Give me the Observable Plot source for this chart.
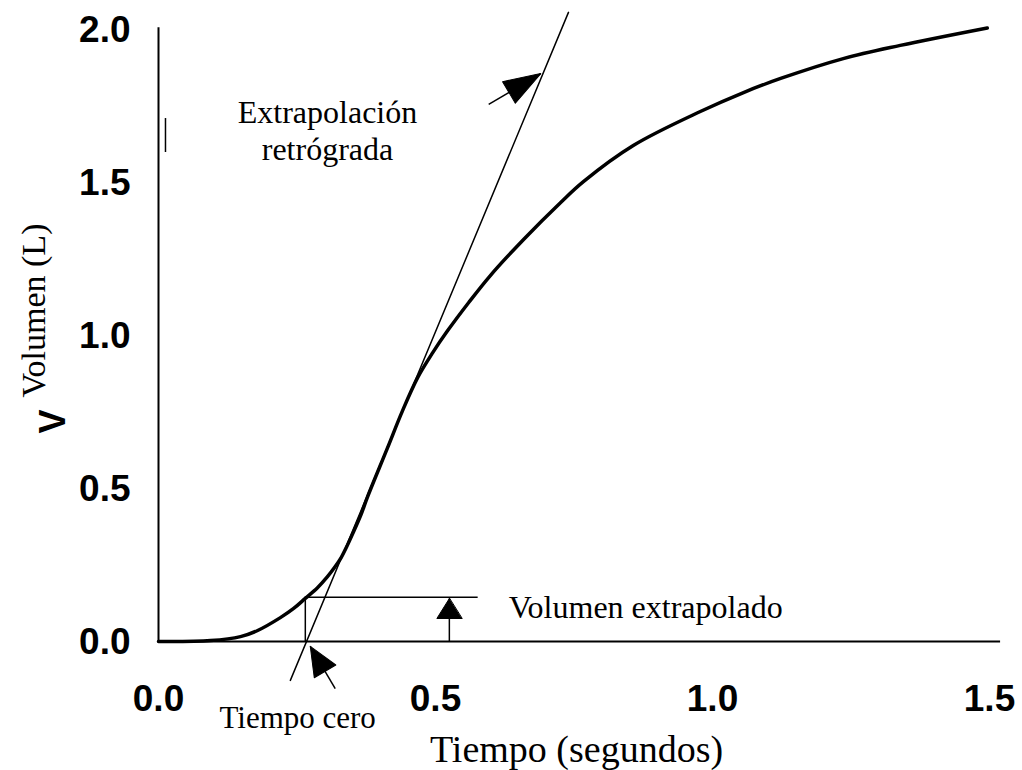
<!DOCTYPE html>
<html><head><meta charset="utf-8">
<script src="https://cdn.jsdelivr.net/npm/d3@7"></script>
<script src="https://cdn.jsdelivr.net/npm/@observablehq/plot@0.6"></script>
<style>body{margin:0;background:#fff}</style>
</head><body><div id="chart"></div>
<script>
// Curva volumen-tiempo (espirometría forzada)
const tiempo  = [0, 0.094, 0.148, 0.179, 0.220, 0.244, 0.265, 0.287, 0.305, 0.319, 0.330, 0.339, 0.350, 0.365, 0.377, 0.413, 0.440, 0.468, 0.495, 0.522, 0.560, 0.599, 0.659, 0.726, 0.767, 0.857, 0.978, 1.056, 1.123, 1.236, 1.339, 1.496];
const volumen = [0, 0.003, 0.016, 0.036, 0.078, 0.108, 0.141, 0.176, 0.212, 0.245, 0.275, 0.307, 0.350, 0.412, 0.471, 0.631, 0.752, 0.863, 0.944, 1.016, 1.108, 1.196, 1.314, 1.435, 1.503, 1.621, 1.732, 1.794, 1.840, 1.905, 1.948, 2.005];

// Recta de extrapolación retrógrada (tangente)
const tangenteT = [0.238, 0.740];
const tangenteV = [-0.127, 2.056];

// Tiempo cero y volumen extrapolado
const tiempoCero = 0.265;
const volExtrap = 0.145;
const volExtrapFinT = 0.577;

const xTicks = [0, 0.5, 1.0, 1.5];
const yTicks = [0, 0.5, 1.0, 1.5, 2.0];

// Flechas: cola (t1,v1) -> punta (t2,v2)
const flechas = [
  {t1: 0.596, v1: 1.755, t2: 0.690, v2: 1.856, largo: 37, ancho: 25},
  {t1: 0.319, v1: -0.154, t2: 0.274, v2: -0.016, largo: 29, ancho: 25},
  {t1: 0.525, v1: 0, t2: 0.525, v2: 0.1405, largo: 20, ancho: 25}
];

// Textos de anotación
const textosSerif = [
  {t: 0.305, v: 1.693, txt: "Extrapolación", anchor: "middle", size: 32},
  {t: 0.305, v: 1.572, txt: "retrógrada", anchor: "middle", size: 32},
  {t: 0.632, v: 0.078, txt: "Volumen extrapolado", anchor: "start", size: 32},
  {t: 0.110, v: -0.284, txt: "Tiempo cero", anchor: "start", size: 31},
  {t: 0.490, v: -0.395, txt: "Tiempo (segundos)", anchor: "start", size: 38}
];

const curva = tiempo.map((t, i) => ({t, v: volumen[i]}));
const tangente = tangenteT.map((t, i) => ({t, v: tangenteV[i]}));

const W = 1022, H = 770;
const mL = 158, mR = 33, mT = 29, mB = 129;
const kx = (W - mL - mR) / 1.5, ky = (H - mT - mB) / 2;
flechas.forEach(f => { f.rot = Math.atan2((f.t2 - f.t1) * kx, (f.v2 - f.v1) * ky) * 180 / Math.PI; });

const cabeza = (largo, ancho) => ({
  draw(ctx) { ctx.moveTo(0, 0); ctx.lineTo(-ancho / 2, largo); ctx.lineTo(ancho / 2, largo); ctx.closePath(); }
});

const sans = "'Liberation Sans', Arial, sans-serif";
const serif = "'Liberation Serif', 'Times New Roman', serif";

const chart = Plot.plot({
  width: W, height: H,
  marginLeft: mL, marginRight: mR, marginTop: mT, marginBottom: mB,
  style: {background: "#fff", color: "#000", fontFamily: serif},
  x: {domain: [0, 1.5]},
  y: {domain: [0, 2]},
  marks: [
    Plot.ruleX([0], {y1: 0, y2: 2.006, stroke: "#000", strokeWidth: 2}),
    Plot.ruleY([0], {x1: 0, x2: 1.52, stroke: "#000", strokeWidth: 2}),
    Plot.ruleX([0.0126], {y1: 1.598, y2: 1.709, stroke: "#000", strokeWidth: 1.5}),
    Plot.axisX({ticks: xTicks, tickSize: 0, tickPadding: 43, tickFormat: d3.format(".1f"), label: null,
      fontSize: 37, fontWeight: "bold", fontFamily: sans, fill: "#000"}),
    Plot.axisY({ticks: yTicks, tickSize: 0, tickPadding: 28, tickFormat: d3.format(".1f"), label: null,
      fontSize: 37, fontWeight: "bold", fontFamily: sans, fill: "#000", dy: 1}),
    Plot.line(tangente, {x: "t", y: "v", stroke: "#000", strokeWidth: 1.5}),
    Plot.ruleY([volExtrap], {x1: tiempoCero, x2: volExtrapFinT, stroke: "#000", strokeWidth: 1.5}),
    Plot.ruleX([tiempoCero], {y1: 0, y2: volExtrap, stroke: "#000", strokeWidth: 1.5}),
    Plot.line(curva, {x: "t", y: "v", stroke: "#000", strokeWidth: 3.5, curve: "catmull-rom"}),
    Plot.link(flechas, {x1: "t1", y1: "v1", x2: "t2", y2: "v2", stroke: "#000", strokeWidth: 1.5}),
    ...flechas.map(f => Plot.vector([f], {x: "t2", y: "v2", rotate: "rot", length: f.largo, anchor: "start",
      shape: cabeza(f.largo, f.ancho), fill: "#000", stroke: "#000", strokeWidth: 1})),
    ...textosSerif.map(d => Plot.text([d], {x: "t", y: "v", text: "txt", textAnchor: d.anchor, lineAnchor: "bottom",
      fontSize: d.size, fontFamily: serif, fill: "#000"})),
    Plot.text(["Volumen (L)"], {x: -0.204, y: 0.797, rotate: -90, textAnchor: "start", lineAnchor: "bottom",
      fontSize: 34, fontFamily: serif, fill: "#000"}),
    Plot.text(["V"], {x: -0.168, y: 0.680, rotate: -90, textAnchor: "start", lineAnchor: "bottom",
      fontSize: 36, fontWeight: "bold", fontFamily: sans, fill: "#000"})
  ]
});
document.getElementById("chart").appendChild(chart);
</script>
</body></html>
